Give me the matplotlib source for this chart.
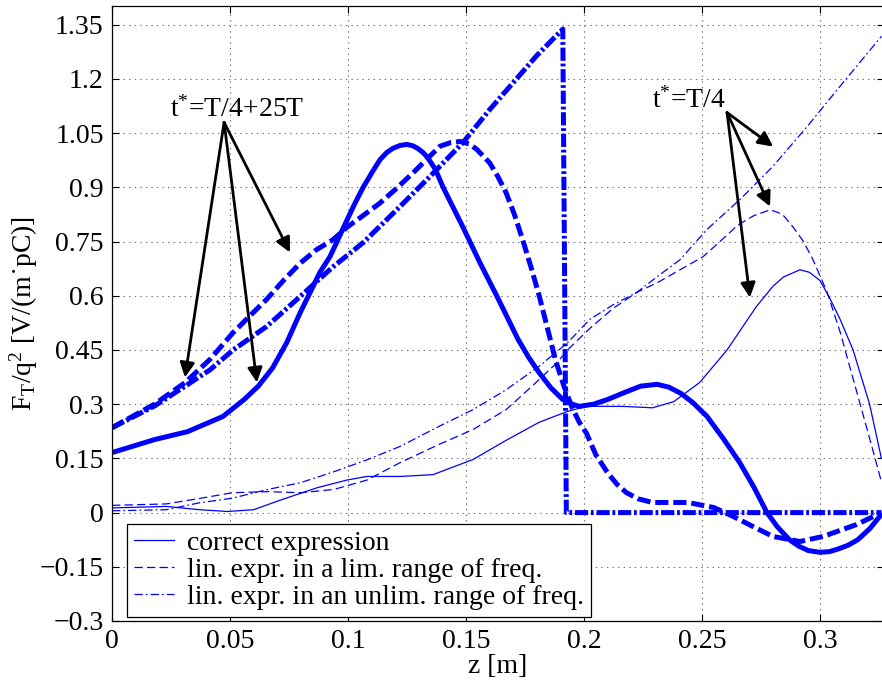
import numpy as np
import matplotlib
matplotlib.use('Agg')
import matplotlib.pyplot as plt

plt.rcParams['font.family'] = ['Liberation Serif', 'DejaVu Serif']
plt.rcParams['mathtext.fontset'] = 'custom'
plt.rcParams['mathtext.rm'] = 'Liberation Serif'
plt.rcParams['mathtext.it'] = 'Liberation Serif'
plt.rcParams['mathtext.default'] = 'regular'
plt.rcParams['lines.scale_dashes'] = False

# t* = T/4 + 25T  (thick lines)
z_sol_b = [0, 0.018, 0.032, 0.047, 0.056, 0.062, 0.068, 0.074, 0.0797, 0.084, 0.088, 0.0924,
           0.0996, 0.103, 0.1064, 0.1105, 0.1136, 0.1165, 0.119, 0.122, 0.125, 0.1275, 0.1295,
           0.1315, 0.1335, 0.137, 0.1403, 0.1445, 0.1487, 0.156, 0.163, 0.1675, 0.172, 0.1765,
           0.181, 0.186, 0.191, 0.195, 0.198, 0.204, 0.21, 0.217, 0.224, 0.231, 0.236, 0.241,
           0.246, 0.252, 0.259, 0.266, 0.272, 0.2775, 0.282, 0.287, 0.291, 0.295, 0.3, 0.304,
           0.308, 0.312, 0.316, 0.321, 0.326]
f_sol_b = [0.166, 0.202, 0.224, 0.266, 0.313, 0.35, 0.40, 0.47, 0.553, 0.61, 0.664, 0.709,
           0.81, 0.857, 0.90, 0.945, 0.977, 0.997, 1.008, 1.016, 1.019, 1.015, 1.008,
           0.998, 0.985, 0.95, 0.90, 0.845, 0.79, 0.69, 0.60, 0.54, 0.48, 0.43,
           0.387, 0.345, 0.313, 0.30, 0.294, 0.30, 0.313, 0.332, 0.35, 0.355, 0.347, 0.33,
           0.305, 0.267, 0.205, 0.138, 0.07, 0.0, -0.04, -0.075, -0.093, -0.105, -0.11, -0.108,
           -0.10, -0.09, -0.075, -0.045, -0.005]

z_dash_b = [0, 0.018, 0.031, 0.0415, 0.0513, 0.0585, 0.0655, 0.073, 0.0797, 0.0865, 0.0936,
            0.0996, 0.1064, 0.1136, 0.1205, 0.1275, 0.134, 0.139, 0.1435, 0.1475, 0.1515,
            0.1546, 0.160, 0.1635, 0.167, 0.1705, 0.174, 0.1775, 0.181, 0.1845, 0.188, 0.1915,
            0.195, 0.198, 0.201, 0.205, 0.21, 0.214, 0.218, 0.223, 0.229, 0.244, 0.255, 0.263,
            0.272, 0.28, 0.2915, 0.3013, 0.3155, 0.326]
f_dash_b = [0.235, 0.30, 0.36, 0.424, 0.498, 0.545, 0.59, 0.645, 0.69, 0.727, 0.755,
            0.79, 0.822, 0.857, 0.897, 0.94, 0.982, 1.014, 1.024, 1.027, 1.02,
            1.005, 0.968, 0.93, 0.885, 0.825, 0.755, 0.68, 0.60, 0.51, 0.42, 0.35,
            0.29, 0.25, 0.22, 0.16, 0.11, 0.078, 0.055, 0.038, 0.028, 0.028, 0.014, -0.01,
            -0.04, -0.066, -0.08, -0.066, -0.033, 0.0]

z_dd_b = [0, 0.018, 0.031, 0.0415, 0.0513, 0.0655, 0.0797, 0.0936, 0.1064, 0.1208, 0.1347,
          0.1487, 0.160, 0.17, 0.18, 0.191, 0.1925, 0.326]
f_dd_b = [0.235, 0.295, 0.35, 0.395, 0.45, 0.515, 0.598, 0.68, 0.747, 0.839, 0.93,
          1.024, 1.115, 1.19, 1.265, 1.338, 0.0, 0.0]

# t* = T/4  (thin lines)
z_sol_a = [0, 0.023, 0.037, 0.049, 0.06, 0.072, 0.087, 0.0995, 0.108, 0.122, 0.136, 0.153,
           0.167, 0.181, 0.193, 0.201, 0.2165, 0.229, 0.238, 0.249, 0.2606, 0.273, 0.28,
           0.2845, 0.2915, 0.2955, 0.3, 0.304, 0.3085, 0.314, 0.321, 0.326]
f_sol_a = [0.013, 0.017, 0.008, 0.003, 0.008, 0.036, 0.069, 0.09, 0.10, 0.10, 0.105, 0.147,
           0.20, 0.25, 0.28, 0.294, 0.294, 0.29, 0.307, 0.36, 0.45, 0.57, 0.626,
           0.652, 0.672, 0.665, 0.642, 0.595, 0.535, 0.45, 0.30, 0.15]

z_dash_a = [0, 0.023, 0.037, 0.051, 0.066, 0.08, 0.094, 0.108, 0.122, 0.139, 0.153, 0.167,
            0.178, 0.1886, 0.193, 0.2025, 0.2123, 0.2225, 0.231, 0.2407, 0.2504, 0.2576,
            0.265, 0.272, 0.279, 0.284, 0.2886, 0.293, 0.297, 0.303, 0.3085, 0.317, 0.3225,
            0.326]
f_dash_a = [0.02, 0.024, 0.039, 0.055, 0.058, 0.055, 0.064, 0.09, 0.138, 0.19, 0.23, 0.285,
            0.35, 0.415, 0.45, 0.51, 0.565, 0.61, 0.636, 0.672, 0.708, 0.75,
            0.795, 0.822, 0.838, 0.826, 0.79, 0.75, 0.70, 0.61, 0.50, 0.30, 0.17,
            0.085]

z_dd_a = [0, 0.023, 0.037, 0.051, 0.066, 0.08, 0.094, 0.108, 0.122, 0.139, 0.153, 0.167,
          0.181, 0.193, 0.2025, 0.2123, 0.2225, 0.231, 0.2407, 0.252, 0.266, 0.28, 0.2945,
          0.3085, 0.326]
f_dd_a = [0.005, 0.008, 0.027, 0.04, 0.064, 0.083, 0.113, 0.146, 0.183, 0.24, 0.285, 0.34,
          0.405, 0.47, 0.535, 0.575, 0.61, 0.653, 0.70, 0.783, 0.866, 0.958, 1.068,
          1.18, 1.318]

xticks = [0, 0.05, 0.1, 0.15, 0.2, 0.25, 0.3]
xtick_labels = ['0', '0.05', '0.1', '0.15', '0.2', '0.25', '0.3']
yticks = [-0.3, -0.15, 0, 0.15, 0.3, 0.45, 0.6, 0.75, 0.9, 1.05, 1.2, 1.35]
ytick_labels = ['\u22120.3', '\u22120.15', '0', '0.15', '0.3', '0.45', '0.6', '0.75',
                '0.9', '1.05', '1.2', '1.35']

legend_labels = ['correct expression', 'lin. expr. in a lim. range of freq.',
                 'lin. expr. in an unlim. range of freq.']

# annotation arrows: (origin, [tips])
ann_b_text = 't$^{*}$=T/4+25T'
ann_b_from = (0.0475, 1.08)
ann_b_tips = [(0.0309, 0.374), (0.0614, 0.36), (0.0754, 0.72)]
ann_a_text = 't$^{*}$=T/4'
ann_a_from = (0.2606, 1.107)
ann_a_tips = [(0.2801, 1.013), (0.2788, 0.847), (0.2703, 0.595)]

blue = '#0000ff'
thick = 3.6
thin = 0.9

fig = plt.figure(figsize=(8.82, 6.89), dpi=100)
ax = fig.add_axes([0.127, 0.0987, 0.875, 0.8926])

ax.plot(z_sol_b, f_sol_b, color=blue, lw=thick, solid_capstyle='butt', solid_joinstyle='round')
ax.plot(z_dash_b, f_dash_b, color=blue, lw=thick, dashes=(9.5, 3.5), dash_capstyle='butt')
ax.plot(z_dd_b, f_dd_b, color=blue, lw=thick, dashes=(9.5, 2, 2, 2), dash_capstyle='butt')

ax.plot(z_sol_a, f_sol_a, color=blue, lw=thin, label=legend_labels[0])
ax.plot(z_dash_a, f_dash_a, color=blue, lw=thin, dashes=(6, 3), label=legend_labels[1])
ax.plot(z_dd_a, f_dd_a, color=blue, lw=thin, dashes=(6, 2.2, 1.2, 2.2), label=legend_labels[2])

arrow_kw = dict(arrowstyle='-|>', color='k', lw=2, mutation_scale=22,
                shrinkA=0, shrinkB=0)
for tip in ann_b_tips:
    ax.annotate('', xy=tip, xytext=ann_b_from, arrowprops=arrow_kw)
for tip in ann_a_tips:
    ax.annotate('', xy=tip, xytext=ann_a_from, arrowprops=arrow_kw)
ax.text(0.0246, 1.095, ann_b_text, fontsize=20, va='baseline', ha='left')
ax.text(0.2288, 1.122, ann_a_text, fontsize=20, va='baseline', ha='left')

ax.set_xlim(0, 0.327)
ax.set_ylim(-0.3, 1.402)
ax.set_xticks(xticks)
ax.set_xticklabels(xtick_labels)
ax.set_yticks(yticks)
ax.set_yticklabels(ytick_labels)
ax.tick_params(direction='in', length=5, width=0.8, labelsize=20,
               top=True, right=True, pad=6)
ax.grid(True, color='#707070', lw=0.8, linestyle=(0, (1, 3)))
for s in ax.spines.values():
    s.set_linewidth(0.9)

ax.set_xlabel('z [m]', fontsize=20, labelpad=0)
ax.set_ylabel('F$_T$/q$^2$ [V/(m\u02d9pC)]', fontsize=20)
ax.yaxis.set_label_coords(-0.093, 0.5)

leg = ax.legend(loc='upper left', bbox_to_anchor=(0.0195, 0.158), borderaxespad=0,
                fontsize=20, fancybox=False, framealpha=1, edgecolor='k',
                handlelength=1.45, handletextpad=0.45, borderpad=0.25,
                labelspacing=0.05)
leg.get_frame().set_linewidth(0.9)

plt.savefig('out.png', dpi=100)
plt.close()
